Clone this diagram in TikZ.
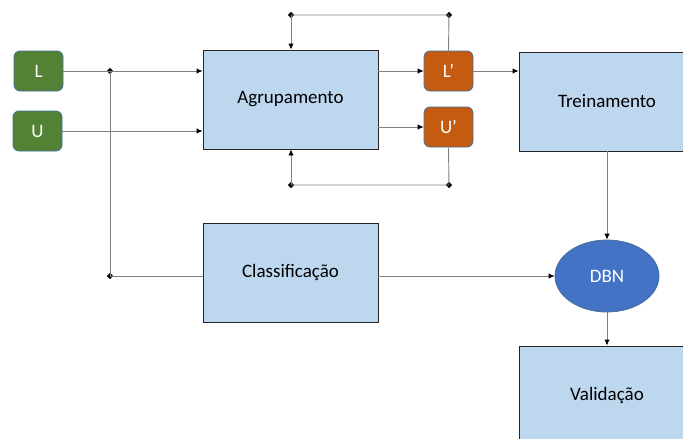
\documentclass[tikz,border=0pt]{standalone}
\usepackage{fontspec}
\setmainfont{Carlito}
\usetikzlibrary{arrows.meta,shapes.geometric}
\definecolor{boxblue}{RGB}{189,215,238}
\definecolor{green1}{RGB}{84,130,53}
\definecolor{orange1}{RGB}{197,90,17}
\definecolor{dbnblue}{RGB}{68,114,196}
\definecolor{edgeblue}{RGB}{65,113,156}
\definecolor{wire}{RGB}{128,128,128}
\tikzset{
  txt/.style = {font=\fontsize{19}{22}\selectfont},
  inbox/.style = {rectangle, rounded corners=6pt, draw=edgeblue, line width=0.8pt,
                  minimum width=49pt, minimum height=40pt, text=white, txt},
  block/.style = {rectangle, fill=boxblue, draw=black!85, line width=0.9pt,
                  minimum width=175pt, minimum height=99pt, txt},
  jdot/.style = {diamond, fill=black, inner sep=0pt, minimum size=6.5pt},
  conn/.style = {draw=wire, line width=0.9pt},
  arr/.style = {conn, -{Latex[length=6pt,width=5.5pt,black]}}
}

\begin{document}
\begin{tikzpicture}[x=1pt, y=-1pt]
	\useasboundingbox (0,0) rectangle (683,439);
	\clip (0,0) rectangle (683,439);

	% Inputs
	\node[inbox, fill=green1] (L) at (38.5,71) {L};
	\node[inbox, fill=green1] (U) at (37.5,131) {U};

	% Blocks
	\node[block] (agrup) at (290.5,99.5) {\raisebox{-2pt}{Agrupamento}};
	\node[block] (classif) at (290.5,272.5) {\raisebox{-1pt}{Classificação}};
	\node[block, minimum width=176pt] (trein) at (607,101.5) {\raisebox{-1pt}{Treinamento}};
	\node[block, minimum width=176pt] (valid) at (607,395.5) {Validação};

	% Outputs of the grouping
	\node[inbox, fill=orange1] (lp) at (448.5,71) {L’};
	\node[inbox, fill=orange1] (up) at (448.5,127) {U’};

	\node[ellipse, fill=dbnblue, draw=edgeblue, line width=0.8pt, text=white, txt,
	      minimum width=104pt, minimum height=72pt, inner sep=0pt] (dbn) at (607,276) {DBN};

	% Junctions
	\node[jdot] (j1) at (110,71) {};
	\node[jdot] (j2) at (110,276) {};
	\node[jdot] (t1) at (449,15) {};
	\node[jdot] (t2) at (291,15) {};
	\node[jdot] (b1) at (449,185) {};
	\node[jdot] (b2) at (291,185) {};

	% Connectors
	\draw[arr] (L.east) -- (agrup.west |- L.east);
	\draw[arr] (U.east) -- (agrup.west |- U.east);
	\draw[conn] (j1.center) -- (j2.center) -- (classif.west |- j2.center);
	\draw[arr] (agrup.east |- lp.west) -- (lp.west);
	\draw[arr] (agrup.east |- up.west) -- (up.west);
	\draw[arr] (lp.east) -- (trein.west |- lp.east);

	% Feedback loops
	\draw[conn] (lp.north) -- (t1.center) -- (t2.center);
	\draw[arr] (t2.center) -- (agrup.north -| t2.center);
	\draw[conn] (up.south) -- (b1.center) -- (b2.center);
	\draw[arr] (b2.center) -- (agrup.south -| b2.center);

	\draw[arr] (trein.south) -- (dbn.north);
	\draw[arr] (classif.east |- dbn.west) -- (dbn.west);
	\draw[arr] (dbn.south) -- (valid.north);

\end{tikzpicture}
\end{document}
